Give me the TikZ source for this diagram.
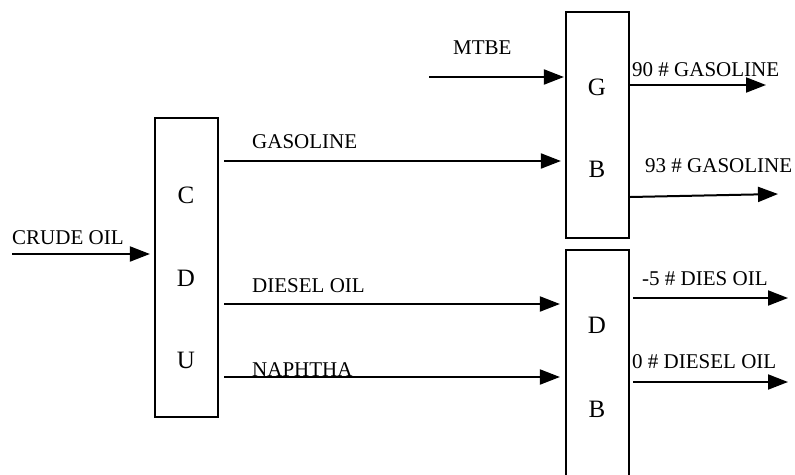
\documentclass[tikz,border=0pt]{standalone}
\usepackage{fontspec}
\setmainfont{Liberation Serif}
\usetikzlibrary{arrows.meta,calc}
\begin{document}
\begin{tikzpicture}[x=1pt,y=-1pt,
  unitbox/.style={draw,line width=2.2pt,rectangle,inner sep=0pt},
  flow/.style={line width=2pt,-{Triangle[length=20pt,width=15pt]}},
  lbl/.style={anchor=base west,inner sep=0pt,font=\fontsize{21}{25}\selectfont},
  letter/.style={anchor=base,inner sep=0pt,font=\fontsize{25}{30}\selectfont}]
\clip (0,0) rectangle (795,474);
\fill[white] (0,0) rectangle (795,474);
% boxes
\node[unitbox,minimum width=63pt,minimum height=299pt] (CDU) at (186.5,267.5) {};
\node[unitbox,minimum width=63pt,minimum height=226pt] (GB) at (597.5,125) {};
\node[unitbox,minimum width=63pt,minimum height=250pt] (DB) at (597.5,375) {};
% letters
\node[letter] (cC) at (186,203) {C};
\node[letter] (cD) at (186,286) {D};
\node[letter] (cU) at (186,368) {U};
\node[letter] (gG) at (597,95) {G};
\node[letter] (gB) at (597,177) {B};
\node[letter] (dD) at (597,333) {D};
\node[letter] (dB) at (597,417) {B};
% labels
\node[lbl] (lcrude) at (12,244) {CRUDE OIL};
\node[lbl] (lgas) at (252,148) {GASOLINE};
\node[lbl] (ldiesel) at (252,292) {DIESEL OIL};
\node[lbl] (lnaph) at (252,376) {NAPHTHA};
\node[lbl] (lmtbe) at (453,54) {MTBE};
\node[lbl] (l90) at (632,76) {90 \# GASOLINE};
\node[lbl] (l93) at (645,172) {93 \# GASOLINE};
\node[lbl] (l5) at (642,285) {-5 \# DIES OIL};
\node[lbl] (l0) at (632,368) {0 \# DIESEL OIL};
% connector ends
\coordinate (crudeS) at (12,254);
\coordinate (gasS) at (224,161);
\coordinate (dieS) at (224,304);
\coordinate (napS) at (224,377);
\coordinate (mtbeS) at (429,77);
\coordinate (o90) at (766,85);
\coordinate (o93) at (778,194);
\coordinate (o5) at (788,298);
\coordinate (o0) at (788,382);
% connectors
\draw[flow,shorten >=4pt] (crudeS) -- (CDU.west |- crudeS);
\draw[flow,shorten >=4pt] (gasS) -- (GB.west |- gasS);
\draw[flow,shorten >=1pt] (mtbeS) -- (GB.west |- mtbeS);
\draw[flow,shorten >=5pt] (dieS) -- (DB.west |- dieS);
\draw[flow,shorten >=5pt] (napS) -- (DB.west |- napS);
\draw[flow] (GB.east |- o90) -- (o90);
\draw[flow] ($(GB.east |- o93)+(0,3)$) -- (o93);
\draw[flow] ($(DB.east |- o5)+(3,0)$) -- (o5);
\draw[flow] ($(DB.east |- o0)+(3,0)$) -- (o0);
\end{tikzpicture}
\end{document}
